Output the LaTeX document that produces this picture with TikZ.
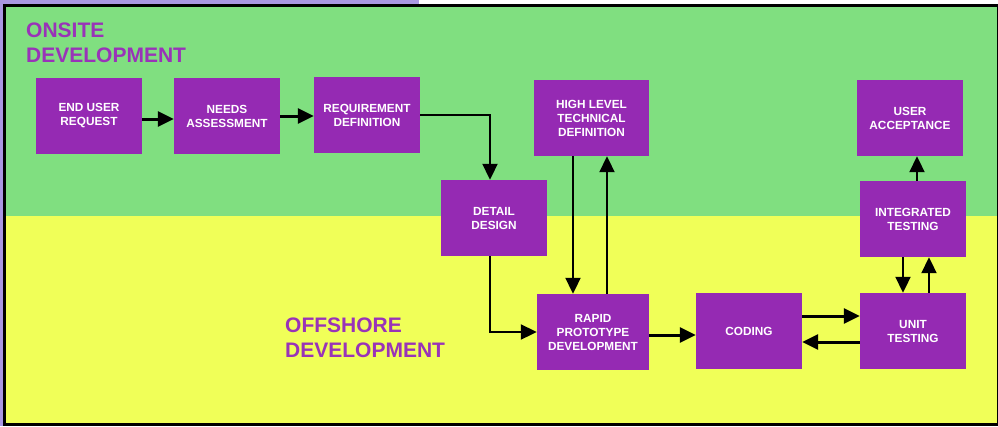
\documentclass[tikz,border=0pt]{standalone}
\usepackage{fontspec}
\setmainfont{Liberation Sans}
\usetikzlibrary{arrows.meta,calc}
\definecolor{lav}{RGB}{170,152,226}
\definecolor{bggreen}{RGB}{128,223,128}
\definecolor{bgyellow}{RGB}{240,255,88}
\definecolor{boxpurple}{RGB}{149,42,179}
\definecolor{titlepurple}{RGB}{153,51,184}
\begin{document}
\begin{tikzpicture}[x=1pt,y=-1pt,
  procbox/.style={fill=boxpurple,text=white,inner sep=0pt,align=center,
    minimum width=106pt,minimum height=76pt,
    font=\fontsize{11.8}{14}\selectfont\bfseries},
  zonetitle/.style={text=titlepurple,inner sep=0pt,align=left,anchor=north west,
    font=\fontsize{21}{25}\selectfont\bfseries},
  flow/.style={line width=3pt,-{Triangle[length=16pt,width=15pt]}},
  vflow/.style={line width=2pt,-{Triangle[length=16pt,width=15pt]}}
]
\useasboundingbox (0,0) rectangle (998,426);
\fill[white] (0,0) rectangle (998,426);
\fill[lav] (0,0) rectangle (419,3.5);
\fill[lav] (0,0) rectangle (2.5,426);
\fill[black] (2.7,4) rectangle (998,426);
\fill[bggreen] (6,7.3) rectangle (996.7,216);
\fill[bgyellow] (6,216) rectangle (996.7,422.7);

\node[zonetitle] (onsite) at (26,23) {ONSITE\\DEVELOPMENT};
\node[zonetitle] (offshore) at (285,318) {OFFSHORE\\DEVELOPMENT};

\node[procbox] (eur) at (89,116) {END USER\\REQUEST};
\node[procbox] (na) at (227,116) {NEEDS\\ASSESSMENT};
\node[procbox] (rd) at (367,115) {REQUIREMENT\\DEFINITION};
\node[procbox,minimum width=115pt] (hltd) at (591.5,118) {HIGH LEVEL\\TECHNICAL\\DEFINITION};
\node[procbox] (ua) at (910,118) {USER\\ACCEPTANCE};
\node[procbox] (dd) at (494,218) {DETAIL\\DESIGN};
\node[procbox,minimum width=112pt] (rpd) at (593,332) {RAPID\\PROTOTYPE\\DEVELOPMENT};
\node[procbox] (cod) at (749,331) {CODING};
\node[procbox] (ut) at (913,331) {UNIT\\TESTING};
\node[procbox] (it) at (913,219) {INTEGRATED\\TESTING};

\draw[flow] ([yshift=-3pt]eur.east) -- ([yshift=-3pt]na.west);
\draw[flow] (na.east) -- (na.east -| rd.west);
\draw[vflow] (rd.east) -| ([xshift=-4pt]dd.north);
\draw[vflow] ([xshift=-4pt]dd.south) |- (rpd.west);
\draw[vflow] ([xshift=-18.5pt]hltd.south) -- ([xshift=-18.5pt]hltd.south |- rpd.north);
\draw[vflow] ([xshift=14pt]rpd.north) -- ([xshift=14pt]rpd.north |- hltd.south);
\draw[flow] ([yshift=-3pt]rpd.east) -- ([yshift=-3pt]rpd.east -| cod.west);
\draw[flow] ([yshift=15pt]cod.east) -- ([yshift=15pt]cod.east -| ut.west);
\draw[flow] ([yshift=-11pt]ut.west) -- ([yshift=-11pt]ut.west -| cod.east);
\draw[vflow] ([xshift=-10pt]it.south) -- ([xshift=-10pt]it.south |- ut.north);
\draw[vflow] ([xshift=16pt]ut.north) -- ([xshift=16pt]ut.north |- it.south);
\draw[vflow] ([xshift=4pt]it.north) -- ([xshift=4pt]it.north |- ua.south);
\end{tikzpicture}
\end{document}
